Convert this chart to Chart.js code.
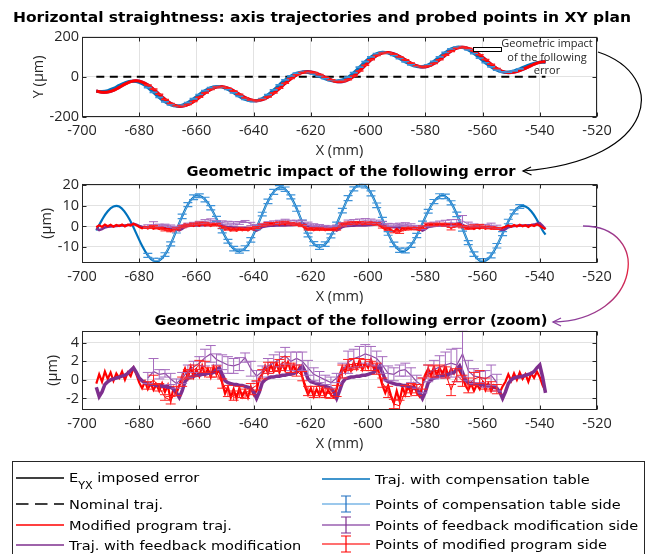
<!DOCTYPE html>
<html>
<head>
<meta charset="utf-8">
<script src="https://cdn.jsdelivr.net/npm/chart.js@4.4.1/dist/chart.umd.min.js"></script>
<style>
  html, body { margin: 0; padding: 0; background: #fff; width: 646px; height: 554px; overflow: hidden; }
  #fig { position: relative; width: 646px; height: 554px; }
  .plot { position: absolute; left: 0; width: 646px; }
  #overlay { position: absolute; left: 0; top: 0; width: 646px; height: 554px; pointer-events: none; }
</style>
</head>
<body>
<div id="fig">
  <div class="plot" style="top:25px;height:136px"><canvas id="c1" width="646" height="136"></canvas></div>
  <div class="plot" style="top:172px;height:135px"><canvas id="c2" width="646" height="135"></canvas></div>
  <div class="plot" style="top:319px;height:135px"><canvas id="c3" width="646" height="135"></canvas></div>
  <svg id="overlay" width="646" height="554" xmlns="http://www.w3.org/2000/svg">
    <defs>
      <linearGradient id="arrowGrad" gradientUnits="userSpaceOnUse" x1="0" y1="226" x2="0" y2="322">
        <stop offset="0" stop-color="#8a3f9e"/>
        <stop offset="0.45" stop-color="#e8203c"/>
        <stop offset="1" stop-color="#8a3f9e"/>
      </linearGradient>
    </defs>
    <!-- plot titles -->
    <g font-family="DejaVu Sans" font-weight="bold" font-size="14" fill="#000" text-anchor="middle" dominant-baseline="central">
      <text x="322" y="17" textLength="618" lengthAdjust="spacingAndGlyphs">Horizontal straightness: axis trajectories and probed points in XY plan</text>
      <text x="351" y="171" textLength="329" lengthAdjust="spacingAndGlyphs">Geometric impact of the following error</text>
      <text x="351" y="320" textLength="393" lengthAdjust="spacingAndGlyphs">Geometric impact of the following error (zoom)</text>
    </g>
    <!-- annotation in the XY plot -->
    <rect x="473.5" y="47.5" width="28" height="4" fill="#fff" stroke="#000" stroke-width="1"/>
    <g font-family="Open Sans" font-size="11" fill="#262626" text-anchor="middle" dominant-baseline="central">
      <text x="547" y="42">Geometric impact</text>
      <text x="547" y="56">of the following</text>
      <text x="547" y="69">error</text>
    </g>
    <!-- arrow from the annotation to the second plot -->
    <path d="M598,52 C668,75 660,160 523,171" fill="none" stroke="#000" stroke-width="1.2"/>
    <path d="M531,167 L523,171 L531.5,175" fill="none" stroke="#000" stroke-width="1.2"/>
    <!-- arrow from the second plot to the zoomed plot -->
    <path d="M583,226 C652,226 642,320 553,322" fill="none" stroke="url(#arrowGrad)" stroke-width="1.3"/>
    <path d="M561,318 L553,322 L561,326" fill="none" stroke="#8a3f9e" stroke-width="1.3"/>
    <!-- legend -->
    <rect x="12.5" y="461.5" width="632" height="120" fill="#fff" stroke="#262626" stroke-width="1"/>
    <g stroke-width="1.5" fill="none">
      <line x1="16" y1="478" x2="64" y2="478" stroke="#000"/>
      <line x1="16" y1="504" x2="64" y2="504" stroke="#000" stroke-dasharray="12.5 6.5"/>
      <line x1="16" y1="525" x2="64" y2="525" stroke="#ff0000"/>
      <line x1="16" y1="545" x2="64" y2="545" stroke="#7e2f8e"/>
      <line x1="322" y1="479" x2="370" y2="479" stroke="#0072bd"/>
      <line x1="322" y1="504" x2="370" y2="504" stroke="#7ab6e6"/>
      <path d="M346,496 V512 M341,496 H351 M341,512 H351" stroke="#1f6fc0" stroke-width="1.2"/>
      <line x1="322" y1="525" x2="370" y2="525" stroke="#9a5fb0"/>
      <path d="M346,517 V533 M341,517 H351 M341,533 H351" stroke="#7e2f8e" stroke-width="1.2"/>
      <line x1="322" y1="544" x2="370" y2="544" stroke="#ff4040"/>
      <path d="M346,536 V552 M341,536 H351 M341,552 H351" stroke="#ff0000" stroke-width="1.2"/>
    </g>
    <g font-family="DejaVu Sans" font-size="13" fill="#000" dominant-baseline="central" transform="translate(69,0) scale(1.12,1) translate(-69,0)">
      <text x="69" y="477">E<tspan font-size="10" y="485">YX</tspan><tspan y="477"> imposed error</tspan></text>
      <text x="69" y="504">Nominal traj.</text>
      <text x="69" y="525">Modified program traj.</text>
      <text x="69" y="545">Traj. with feedback modification</text>
    </g>
    <g font-family="DejaVu Sans" font-size="13" fill="#000" dominant-baseline="central" transform="translate(375,0) scale(1.12,1) translate(-375,0)">
      <text x="375" y="479">Traj. with compensation table</text>
      <text x="375" y="504">Points of compensation table side</text>
      <text x="375" y="525">Points of feedback modification side</text>
      <text x="375" y="544">Points of modified program side</text>
    </g>
  </svg>
</div>
<script>
// ---- X positions (mm) ----
const X_FINE = [
  -695,-694,-693,-692,-691,-690,-689,-688,-687,-686,
  -685,-684,-683,-682,-681,-680,-679,-678,-677,-676,
  -675,-674,-673,-672,-671,-670,-669,-668,-667,-666,
  -665,-664,-663,-662,-661,-660,-659,-658,-657,-656,
  -655,-654,-653,-652,-651,-650,-649,-648,-647,-646,
  -645,-644,-643,-642,-641,-640,-639,-638,-637,-636,
  -635,-634,-633,-632,-631,-630,-629,-628,-627,-626,
  -625,-624,-623,-622,-621,-620,-619,-618,-617,-616,
  -615,-614,-613,-612,-611,-610,-609,-608,-607,-606,
  -605,-604,-603,-602,-601,-600,-599,-598,-597,-596,
  -595,-594,-593,-592,-591,-590,-589,-588,-587,-586,
  -585,-584,-583,-582,-581,-580,-579,-578,-577,-576,
  -575,-574,-573,-572,-571,-570,-569,-568,-567,-566,
  -565,-564,-563,-562,-561,-560,-559,-558,-557,-556,
  -555,-554,-553,-552,-551,-550,-549,-548,-547,-546,
  -545,-544,-543,-542,-541,-540,-539,-538
];
const X_COARSE = [
  -695,-693,-691,-689,-687,-685,-683,-681,-679,-677,
  -675,-673,-671,-669,-667,-665,-663,-661,-659,-657,
  -655,-653,-651,-649,-647,-645,-643,-641,-639,-637,
  -635,-633,-631,-629,-627,-625,-623,-621,-619,-617,
  -615,-613,-611,-609,-607,-605,-603,-601,-599,-597,
  -595,-593,-591,-589,-587,-585,-583,-581,-579,-577,
  -575,-573,-571,-569,-567,-565,-563,-561,-559,-557,
  -555,-553,-551,-549,-547,-545,-543,-541,-539,-538
];

// ---- E_YX imposed error, Y (µm) along X_COARSE ----
const IMPOSED = [
  -70,-76,-75.8,-67.2,-52.6,-36.7,-24.5,-20,-25.1,-39.6,
  -61.1,-86.2,-110.7,-130.8,-143.1,-145.7,-138.6,-123.3,-102.9,-81.4,
  -63.2,-51.7,-49.3,-55.6,-68.8,-85.7,-102,-113.7,-118,-113.7,
  -101.2,-82,-58.5,-33.5,-10,9.2,21.7,26,22.4,12.5,
  -0.7,-13.4,-21.9,-23.6,-15.4,2.6,27.8,56.2,83.4,105.4,
  118.9,121.7,115.6,102.7,86,69.3,56.4,50.3,52.9,65.2,
  84.6,106.9,127.5,141.8,147,142.5,129.6,110.1,87,63.4,
  42.7,28,21.3,22.8,30.4,42.3,55.7,67.6,75.2,76
];

// ---- following-error impact of the compensation-table trajectory (µm), along X_COARSE ----
const COMP_DEV = [
  -2,3.2,7.4,9.7,9.7,7.0,2.4,-3.5,-9.4,-14.1,
  -16.7,-16.6,-13.7,-8.5,-1.9,4.9,10.6,14.2,14.9,13.1,
  9.1,3.7,-2.1,-7.2,-10.8,-12.0,-10.6,-6.5,-0.6,6.0,
  12.2,16.8,18.9,18.1,14.4,8.7,2.0,-4.2,-8.4,-10.0,
  -8.6,-4.6,1.2,7.7,13.8,18.3,20.4,19.7,16.1,10.3,
  3.4,-3.4,-8.7,-11.6,-11.7,-9.1,-4.4,1.5,7.4,12.1,
  14.7,14.6,11.5,5.9,-1.0,-7.9,-13.5,-16.6,-16.7,-14.1,
  -9.4,-3.5,2.4,7.1,9.7,9.7,7.4,3.2,-2.0,-4.0
];

// ---- feedback-modification trajectory impact (µm), along X_FINE ----
const FEEDBACK_DEV = [
  -0.8,-1.8,-1.3,-0.5,-0.2,0,0.1,0.2,0.3,0.4,
  0.5,0.7,1.0,1.3,0.8,0.2,-0.1,-0.3,-0.4,-0.5,
  -0.5,-0.6,-0.6,-0.7,-0.7,-0.8,-0.8,-1.0,-1.4,-1.9,
  -1.2,-0.2,0.2,0.3,0.4,0.5,0.5,0.6,0.6,0.7,
  0.7,0.8,1.1,1.3,0.6,-0.1,-0.3,-0.4,-0.5,-0.5,
  -0.6,-0.6,-0.7,-0.8,-0.9,-1.3,-2.0,-1.3,-0.3,0,
  0.2,0.3,0.3,0.4,0.4,0.5,0.5,0.6,0.6,0.7,
  0.8,1.1,1.5,0.9,0.1,-0.2,-0.3,-0.4,-0.5,-0.6,
  -0.7,-0.8,-0.9,-1.3,-2.0,-1.2,-0.3,0.1,0.2,0.3,
  0.3,0.4,0.4,0.5,0.5,0.6,0.7,0.8,1.2,1.5,
  0.8,0,-0.2,-0.3,-0.4,-0.5,-0.5,-0.6,-0.6,-0.7,
  -0.8,-0.9,-1.0,-1.4,-2.0,-1.3,-0.3,0,0.2,0.3,
  0.4,0.5,0.5,0.6,0.7,0.8,1.1,1.5,0.8,0,
  -0.3,-0.4,-0.4,-0.5,-0.5,-0.5,-0.6,-0.6,-0.7,-0.8,
  -0.9,-1.3,-2.0,-1.3,-0.4,0,0.2,0.3,0.3,0.4,
  0.5,0.6,0.7,0.9,1.3,1.6,0.3,-1.4
];

// ---- modified-program trajectory impact (µm), along X_FINE ----
const PROGRAM_DEV = [
  -0.4,0.6,-0.2,0.9,0.1,0.8,-0.1,0.7,0.2,0.9,
  0.0,0.8,0.4,1.3,0.6,-0.3,-0.9,-0.2,-1.0,-0.4,
  -1.1,-0.5,-1.2,-0.4,-1.3,-0.6,-2.2,-0.9,-1.5,-0.6,
  0.4,1.2,0.2,1.4,0.3,1.1,0.4,1.5,0.5,1.2,
  0.3,1.4,0.6,1.1,-0.3,-1.5,-0.8,-1.9,-1.0,-2.0,
  -0.9,-1.8,-1.1,-1.9,-0.8,-1.6,-1.2,0.2,0.6,1.5,
  0.7,1.6,0.9,1.8,0.8,1.7,1.0,1.9,0.9,1.6,
  0.8,1.4,0.3,-0.8,-1.6,-0.9,-1.8,-1.0,-1.7,-0.9,
  -1.8,-1.1,-1.6,-1.9,-0.9,0.5,1.4,0.8,1.8,1.0,
  1.9,1.2,2.1,1.1,1.8,1.3,2.2,1.2,1.7,0.5,
  -0.6,-1.4,-0.6,-1.7,-2.5,-1.2,-2.3,-0.8,-1.6,-0.6,
  -1.5,-0.5,-1.4,-1.8,-0.6,0.6,1.2,0.4,1.4,0.5,
  1.3,0.6,1.5,0.4,1.2,0.7,1.4,0.9,0.3,-0.6,
  -1.1,-0.4,-1.2,-0.5,-1.0,-0.3,-1.1,-0.4,-1.2,-0.6,
  -0.9,-1.4,-0.7,-0.2,0.6,-0.1,0.7,0.0,0.8,0.1,
  0.6,-0.2,0.7,0.2,0.9,0.3,-0.6,-1.2
];

// ---- nominal trajectory ----
const NOMINAL_X = [-695, -538];
const NOMINAL_Y = [0, 0];

// ---- probed points: compensation table side ----
const COMP_PT_X = [
  -677,-675,-673,-671,-669,-667,-665,-663,-661,-659,
  -657,-655,-653,-651,-649,-647,-645,-643,-641,-639,
  -637,-635,-633,-631,-629,-627,-625,-623,-621,-619,
  -617,-615,-613,-611,-609,-607,-605,-603,-601,-599,
  -597,-595,-593,-591,-589,-587,-585,-583,-581,-579,
  -577,-575,-573,-571,-569,-567,-565,-563,-561,-559,
  -557,-555,-553,-551,-549,-547
];
const COMP_PT = [
  -14.1,-16.7,-16.6,-13.7,-8.5,-1.9,4.9,10.6,14.2,14.9,
  13.1,9.1,3.7,-2.1,-7.2,-10.8,-12.0,-10.6,-6.5,-0.6,
  6.0,12.2,16.8,18.9,18.1,14.4,8.7,2.0,-4.2,-8.4,
  -10.0,-8.6,-4.6,1.2,7.7,13.8,18.3,20.4,19.7,16.1,
  10.3,3.4,-3.4,-8.7,-11.6,-11.7,-9.1,-4.4,1.5,7.4,
  12.1,14.7,14.6,11.5,5.9,-1.0,-7.9,-13.5,-16.6,-16.7,
  -14.1,-9.4,-3.5,2.4,7.1,9.7
];
const COMP_PT_ERR = [
  1.0,1.2,1.1,0.9,1.0,1.3,1.1,1.0,1.2,0.9,
  1.1,1.0,1.2,1.0,0.9,1.1,1.0,1.2,1.1,1.0,
  0.9,1.1,1.2,1.0,1.1,1.0,1.3,1.1,0.9,1.0,
  1.2,1.1,1.0,0.9,1.1,1.2,1.0,1.1,1.0,1.2,
  1.1,1.0,0.9,1.1,1.0,1.2,1.1,1.0,1.1,0.9,
  1.0,1.2,1.1,1.0,1.1,1.3,1.0,1.1,0.9,1.0,
  1.2,1.1,1.0,1.1,1.0,0.9
];

// ---- probed points: feedback modification side and modified program side ----
const PT_X = [
  -677,-675,-673,-671,-669,-667,-665,-663,-661,-659,
  -657,-655,-653,-651,-649,-647,-645,-643,-641,-639,
  -637,-635,-633,-631,-629,-627,-625,-623,-621,-619,
  -617,-615,-613,-611,-609,-607,-605,-603,-601,-599,
  -597,-595,-593,-591,-589,-587,-585,-583,-581,-579,
  -577,-575,-573,-571,-569,-567,-565,-563,-561,-559,
  -557,-555
];
const FEEDBACK_PT = [
  0.2,0.9,0.6,0.7,0.1,-0.4,0.2,0.9,1.4,1.8,
  2.4,2.8,2.2,1.9,1.6,1.5,1.7,2.4,1.2,0.4,
  0.9,1.5,1.8,2.2,2.6,2.0,2.3,2.0,1.3,0.6,
  0.3,0.0,-0.3,0.2,1.0,1.9,2.3,2.5,2.8,2.6,
  2.3,1.6,0.7,0.6,1.0,1.1,0.5,-0.2,-0.6,0.7,
  1.1,1.4,1.6,1.8,1.6,2.8,1.0,0.4,0.3,0.1,
  0.5,-0.3
];
const FEEDBACK_PT_ERR = [
  0.6,1.4,0.5,0.4,0.6,0.5,0.6,0.7,0.6,0.7,
  0.9,0.9,0.6,0.8,0.9,0.8,0.7,0.5,0.8,0.6,
  0.6,0.8,0.9,0.8,0.9,1.0,0.7,1.0,0.8,0.7,
  0.6,0.5,0.6,0.5,0.8,1.2,1.0,1.1,1.0,1.0,
  0.8,0.9,0.8,0.7,0.6,0.7,0.8,0.7,0.8,0.9,
  1.0,1.2,1.4,1.5,1.8,2.5,1.1,0.8,0.6,0.9,
  1.1,0.9
];
const PROGRAM_PT = [
  -0.6,0.0,-0.8,-1.9,-2.2,-1.2,-0.2,0.6,1.0,1.6,
  1.4,0.8,0.9,-0.4,-1.2,-1.7,-1.3,-1.5,-1.0,-0.6,
  0.6,1.3,1.4,1.6,2.0,1.3,1.0,0.4,-1.2,-1.3,
  -1.2,-1.4,-1.5,-1.2,0.9,1.6,1.7,1.8,1.6,1.5,
  1.2,-0.3,-1.3,-2.6,-2.8,-1.2,-0.9,-1.1,-0.4,1.0,
  0.9,1.1,0.8,-1.1,0.5,-0.1,-0.6,0.1,0.3,-0.4,
  -0.7,-1.0
];
const PROGRAM_PT_ERR = [
  0.4,0.5,0.4,0.3,0.4,0.5,0.5,0.5,0.6,0.5,
  0.6,0.5,0.6,0.5,0.6,0.5,0.6,0.5,0.6,0.5,
  0.5,0.6,0.5,0.6,0.5,0.5,0.6,0.5,0.5,0.6,
  0.5,0.5,0.5,0.6,0.7,0.6,0.6,0.5,0.6,0.5,
  0.6,0.5,0.6,0.5,0.6,0.6,0.5,0.6,0.6,0.6,
  0.6,0.5,0.6,0.6,0.7,0.6,0.8,0.7,0.7,0.6,
  0.5,0.5
];

// ---- axis limits and tick labels ----
const X_MIN = -700, X_MAX = -520;
const X_TICKS = [-700, -680, -660, -640, -620, -600, -580, -560, -540, -520];
const Y1_MIN = -200, Y1_MAX = 200;
const Y1_TICKS = [-200, 0, 200];
const Y2_MIN = -17.8, Y2_MAX = 20.8;
const Y2_TICKS = [-10, 0, 10, 20];
const Y3_MIN = -3.25, Y3_MAX = 5.3;
const Y3_TICKS = [-2, 0, 2, 4];

// ---- colours ----
const C_BLUE = '#0072bd', C_BLUE_PT = '#7ab6e6', C_BLUE_BAR = '#3d92d8';
const C_PURPLE = '#7e2f8e', C_PURPLE_PT = '#8e4aa2', C_PURPLE_BAR = '#a56abd';
const C_RED = '#ff0000', C_RED_BAR = '#ff2020';

// ---- helpers ----
const pairs = (xs, ys) => xs.map((x, i) => ({ x, y: ys[i] }));
const fineAt = (arr, x) => arr[X_FINE.indexOf(x)];
const coarseAt = (arr, x) => arr[X_COARSE.indexOf(x)];

// draws vertical error bars with caps for datasets that carry an `err` array
const errorBars = {
  id: 'errorBars',
  afterDatasetsDraw(chart) {
    const { ctx, chartArea: a, scales: { x, y } } = chart;
    ctx.save();
    ctx.beginPath();
    ctx.rect(a.left, a.top, a.right - a.left, a.bottom - a.top);
    ctx.clip();
    const metas = chart.getSortedVisibleDatasetMetas().slice().reverse();
    metas.forEach(meta => {
      const ds = chart.data.datasets[meta.index];
      if (!ds.err) return;
      ctx.strokeStyle = ds.errColor;
      ctx.lineWidth = ds.errWidth || 1;
      const hw = ds.capHalf || 4;
      ds.data.forEach((p, i) => {
        const e = ds.err[i];
        const px = x.getPixelForValue(p.x);
        const y1 = y.getPixelForValue(p.y - e);
        const y2 = y.getPixelForValue(p.y + e);
        ctx.beginPath();
        ctx.moveTo(px, y1); ctx.lineTo(px, y2);
        ctx.moveTo(px - hw, y1); ctx.lineTo(px + hw, y1);
        ctx.moveTo(px - hw, y2); ctx.lineTo(px + hw, y2);
        ctx.stroke();
      });
    });
    ctx.restore();
  }
};

// axes box with inward tick marks on all four sides
const frame = {
  id: 'frame',
  afterDraw(chart) {
    const { ctx, chartArea: a, scales: { x, y } } = chart;
    const L = Math.round(a.left) + 0.5, R = Math.round(a.right) - 0.5;
    const T = Math.round(a.top) + 0.5, B = Math.round(a.bottom) - 0.5;
    const tl = 4;
    ctx.save();
    ctx.strokeStyle = '#262626';
    ctx.lineWidth = 1;
    ctx.strokeRect(L, T, R - L, B - T);
    ctx.beginPath();
    x.ticks.forEach(t => {
      const px = Math.round(x.getPixelForValue(t.value)) + 0.5;
      ctx.moveTo(px, B); ctx.lineTo(px, B - tl);
      ctx.moveTo(px, T); ctx.lineTo(px, T + tl);
    });
    y.ticks.forEach(t => {
      const py = Math.round(y.getPixelForValue(t.value)) + 0.5;
      ctx.moveTo(L, py); ctx.lineTo(L + tl, py);
      ctx.moveTo(R, py); ctx.lineTo(R - tl, py);
    });
    ctx.stroke();
    ctx.restore();
  }
};

Chart.defaults.font.family = 'Open Sans';
Chart.defaults.color = '#262626';

const TICK_FONT = { family: 'Open Sans', size: 14.5 };
const AXIS_FONT = { family: 'Open Sans', size: 14.5 };

const useTicks = values => s => { s.ticks = values.map(v => ({ value: v })); };

function makeOptions(yMin, yMax, yTicks, yTitle, yTitlePad) {
  return {
    responsive: false,
    animation: false,
    events: [],
    layout: { padding: { top: 10, right: 49, bottom: 0, left: 0 } },
    plugins: { legend: { display: false }, tooltip: { enabled: false }, title: { display: false } },
    elements: { point: { radius: 0 } },
    scales: {
      x: {
        type: 'linear', min: X_MIN, max: X_MAX,
        afterBuildTicks: useTicks(X_TICKS),
        ticks: { font: TICK_FONT, color: '#262626', padding: 5, maxRotation: 0, autoSkip: false,
                 callback: v => String(v) },
        grid: { color: '#e2e2e2', drawTicks: false },
        border: { display: false },
        title: { display: true, text: 'X (mm)', font: AXIS_FONT, color: '#262626', padding: { top: 0, bottom: 1 } },
        afterFit: s => { s.height = 44; }
      },
      y: {
        type: 'linear', min: yMin, max: yMax,
        afterBuildTicks: useTicks(yTicks),
        ticks: { font: TICK_FONT, color: '#262626', padding: 3, autoSkip: false,
                 callback: v => String(v) },
        grid: { color: '#e2e2e2', drawTicks: false },
        border: { display: false },
        title: { display: true, text: yTitle, font: AXIS_FONT, color: '#262626', padding: { top: yTitlePad, bottom: 0 } },
        afterFit: s => { s.width = 82; }
      }
    }
  };
}

// datasets are listed back to front; the first one listed is painted first
function stack(list) {
  return list.map((d, i) => Object.assign({ order: list.length - i, pointRadius: 0, fill: false }, d));
}

// ---------- plot 1: XY trajectories ----------
const imposedLine = pairs(X_COARSE, IMPOSED);
const compLine = X_COARSE.map((x, i) => ({ x, y: IMPOSED[i] + COMP_DEV[i] }));
const feedbackLine = X_COARSE.map((x, i) => ({ x, y: IMPOSED[i] + fineAt(FEEDBACK_DEV, x) }));
const programLine = X_COARSE.map((x, i) => ({ x, y: IMPOSED[i] + fineAt(PROGRAM_DEV, x) }));
const compPts1 = COMP_PT_X.map((x, i) => ({ x, y: coarseAt(IMPOSED, x) + COMP_PT[i] }));
const programPts1 = PT_X.map((x, i) => ({ x, y: coarseAt(IMPOSED, x) + PROGRAM_PT[i] }));

new Chart(document.getElementById('c1'), {
  type: 'line',
  data: {
    datasets: stack([
      { data: pairs(NOMINAL_X, NOMINAL_Y), borderColor: '#000', borderWidth: 2, borderDash: [8, 5.5] },
      { data: imposedLine, borderColor: '#000', borderWidth: 1.5, tension: 0.4 },
      { data: feedbackLine, borderColor: C_PURPLE, borderWidth: 3, tension: 0.4 },
      { data: compLine, borderColor: C_BLUE, borderWidth: 3, tension: 0.4 },
      { data: compPts1, showLine: false, borderColor: C_BLUE_PT, err: COMP_PT_ERR, errColor: C_BLUE_BAR, capHalf: 4, errWidth: 1.3 },
      { data: programLine, borderColor: C_RED, borderWidth: 3, tension: 0.4 },
      { data: programPts1, showLine: false, borderColor: C_RED, err: PROGRAM_PT_ERR, errColor: C_RED_BAR, capHalf: 4, errWidth: 1.3 }
    ])
  },
  options: makeOptions(Y1_MIN, Y1_MAX, Y1_TICKS, 'Y (µm)', 30),
  plugins: [errorBars, frame]
});

// ---------- plot 2: geometric impact of the following error ----------
new Chart(document.getElementById('c2'), {
  type: 'line',
  data: {
    datasets: stack([
      { data: pairs(X_COARSE, COMP_DEV), borderColor: C_BLUE, borderWidth: 2.2, tension: 0.4 },
      { data: pairs(COMP_PT_X, COMP_PT), borderColor: C_BLUE_PT, borderWidth: 1, err: COMP_PT_ERR, errColor: C_BLUE_BAR, capHalf: 4.5, errWidth: 1.2 },
      { data: pairs(PT_X, FEEDBACK_PT), borderColor: C_PURPLE_BAR, borderWidth: 1, err: FEEDBACK_PT_ERR, errColor: C_PURPLE_BAR, capHalf: 4.5 },
      { data: pairs(X_FINE, FEEDBACK_DEV), borderColor: C_PURPLE, borderWidth: 2.5 },
      { data: pairs(X_FINE, PROGRAM_DEV), borderColor: C_RED, borderWidth: 2.2 },
      { data: pairs(PT_X, PROGRAM_PT), borderColor: C_RED, borderWidth: 1, err: PROGRAM_PT_ERR, errColor: C_RED_BAR, capHalf: 4.5 }
    ])
  },
  options: makeOptions(Y2_MIN, Y2_MAX, Y2_TICKS, '(µm)', 38),
  plugins: [errorBars, frame]
});

// ---------- plot 3: zoom on the feedback / program sides ----------
new Chart(document.getElementById('c3'), {
  type: 'line',
  data: {
    datasets: stack([
      { data: pairs(X_FINE, PROGRAM_DEV), borderColor: C_RED, borderWidth: 2.2 },
      { data: pairs(X_FINE, FEEDBACK_DEV), borderColor: C_PURPLE, borderWidth: 3.5 },
      { data: pairs(PT_X, FEEDBACK_PT), borderColor: C_PURPLE_PT, borderWidth: 1.2, err: FEEDBACK_PT_ERR, errColor: C_PURPLE_BAR, capHalf: 5 },
      { data: pairs(PT_X, PROGRAM_PT), borderColor: C_RED, borderWidth: 1, err: PROGRAM_PT_ERR, errColor: C_RED_BAR, capHalf: 5 }
    ])
  },
  options: makeOptions(Y3_MIN, Y3_MAX, Y3_TICKS, '(µm)', 44),
  plugins: [errorBars, frame]
});
</script>
</body>
</html>
